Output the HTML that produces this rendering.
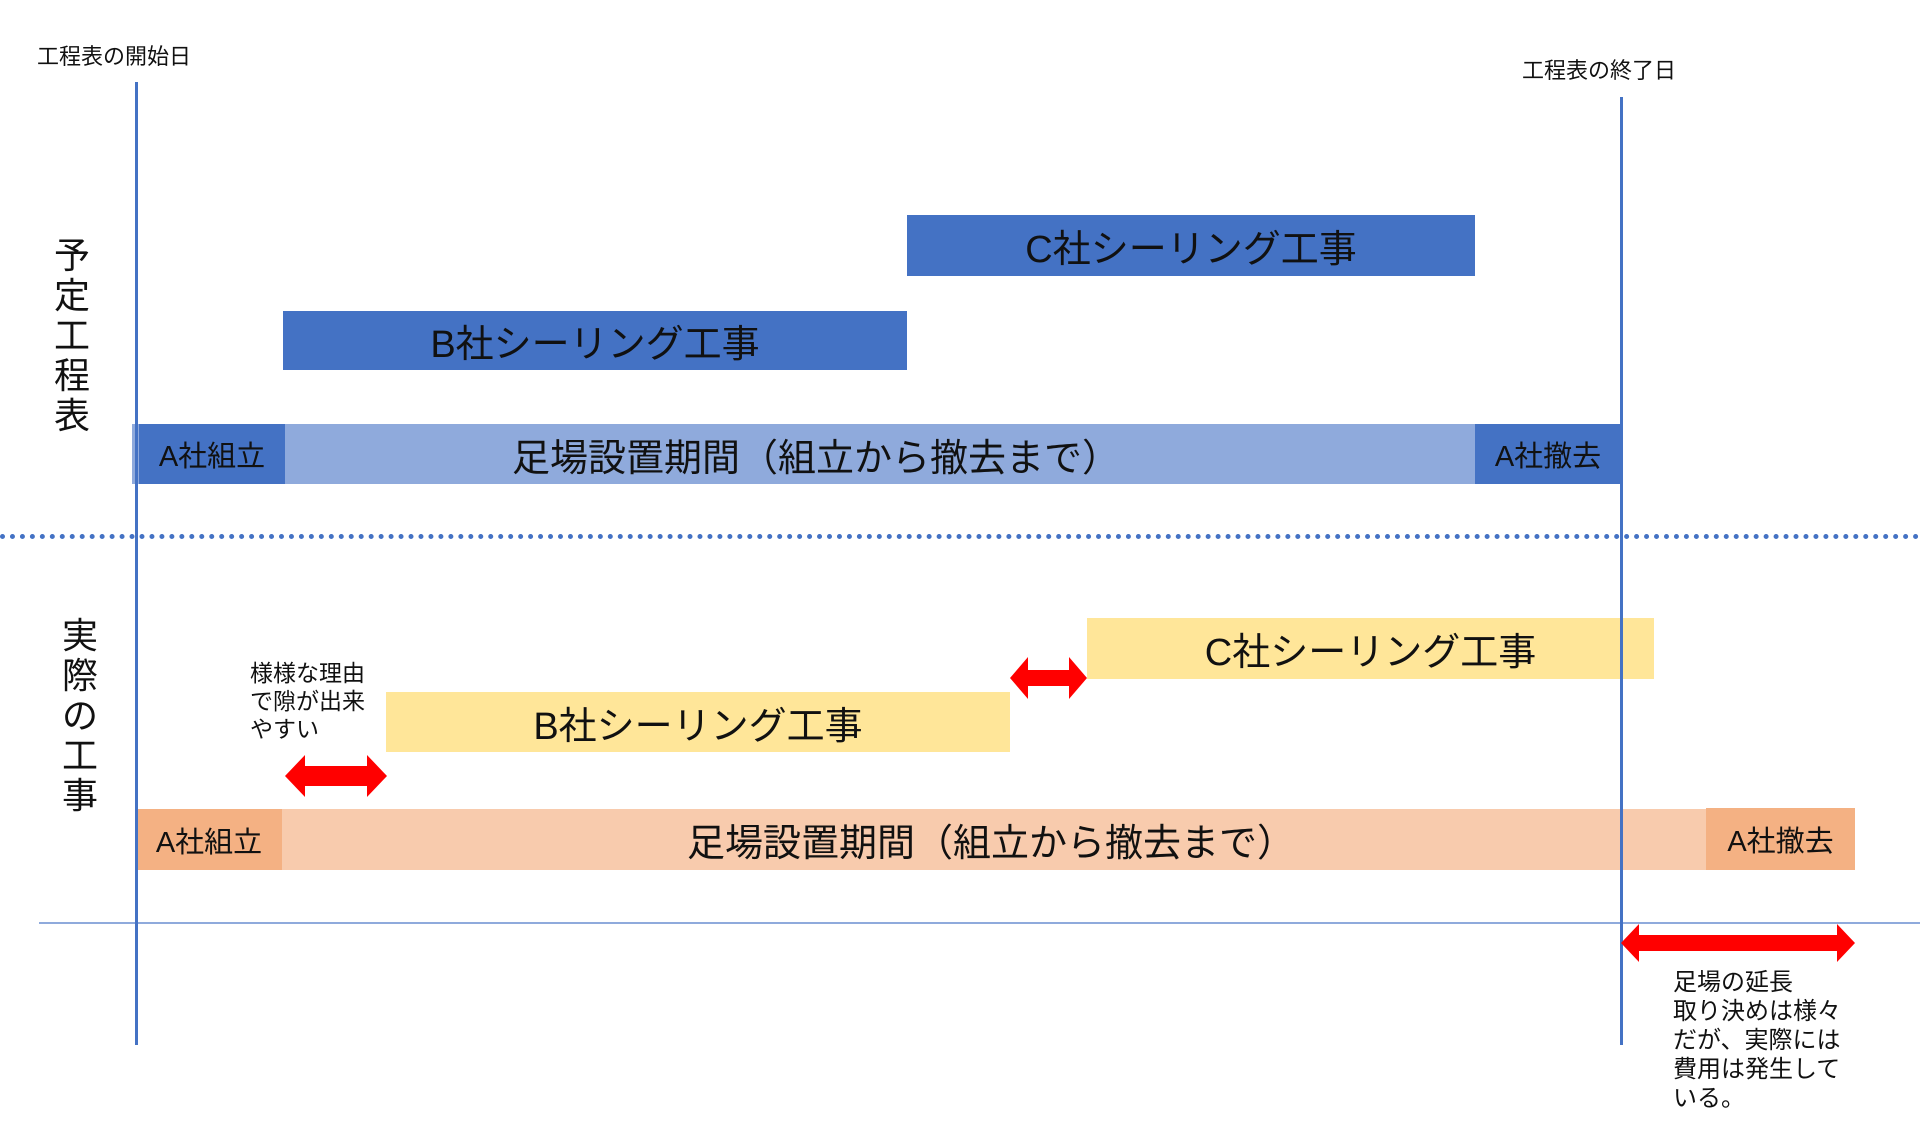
<!DOCTYPE html>
<html><head><meta charset="utf-8"><style>
body{margin:0;width:1920px;height:1134px;background:#fff;position:relative;overflow:hidden;font-family:"Liberation Sans","Noto Sans CJK JP",sans-serif;color:#111}
div{position:absolute;box-sizing:border-box}
.bar{display:flex;align-items:center;justify-content:center;white-space:nowrap}
.vt{width:44px;text-align:center;line-height:40px;font-size:36px}
.sm{font-size:23px;line-height:28px;white-space:nowrap}
</style></head><body>
<div class="sm" style="left:37px;top:43px;font-size:22px">工程表の開始日</div>
<div class="sm" style="left:1522px;top:57px;font-size:22px">工程表の終了日</div>
<div class="vt" style="left:50px;top:236px">予<br>定<br>工<br>程<br>表</div>
<div class="vt" style="left:58px;top:616px">実<br>際<br>の<br>工<br>事</div>

<div class="bar" style="left:907px;top:215px;width:568px;height:61px;background:#4472c4;font-size:38px">C社シーリング工事</div>
<div class="bar" style="left:283px;top:311px;width:624px;height:59px;background:#4472c4;font-size:38px">B社シーリング工事</div>
<div class="bar" style="left:132px;top:424px;width:1489px;height:60px;background:#8faadc;font-size:38px;justify-content:flex-start;padding-left:380px">足場設置期間（組立から撤去まで）</div>
<div class="bar" style="left:139px;top:424px;width:146px;height:60px;background:#4472c4;font-size:29px">A社組立</div>
<div class="bar" style="left:1475px;top:424px;width:146px;height:60px;background:#4472c4;font-size:29px">A社撤去</div>

<div style="left:0;top:534px;width:1920px;height:0;border-top:5px dotted #4472c4"></div>

<div class="bar" style="left:1087px;top:618px;width:567px;height:61px;background:#ffe699;font-size:38px">C社シーリング工事</div>
<div class="bar" style="left:386px;top:692px;width:624px;height:60px;background:#ffe699;font-size:38px">B社シーリング工事</div>
<div class="bar" style="left:136px;top:809px;width:1719px;height:61px;background:#f8cbad;font-size:38px;justify-content:flex-start;padding-left:551px">足場設置期間（組立から撤去まで）</div>
<div class="bar" style="left:136px;top:809px;width:146px;height:61px;background:#f4b183;font-size:29px">A社組立</div>
<div class="bar" style="left:1706px;top:808px;width:149px;height:62px;background:#f4b183;font-size:29px">A社撤去</div>

<div style="left:39px;top:922px;width:1881px;height:2px;background:#8faadc"></div>
<div style="left:135px;top:82px;width:3px;height:963px;background:#4472c4"></div>
<div style="left:1620px;top:97px;width:3px;height:948px;background:#4472c4"></div>

<svg width="1920" height="1134" style="position:absolute;left:0;top:0">
<polygon fill="#f00" points="285,776 305,755 305,766 367,766 367,755 387,776 367,797 367,786 305,786 305,797"/>
<polygon fill="#f00" points="1010,678 1028,657 1028,670 1069,670 1069,657 1087,678 1069,699 1069,686 1028,686 1028,699"/>
<polygon fill="#f00" points="1621,943 1639,924 1639,935 1837,935 1837,924 1855,943 1837,962 1837,951 1639,951 1639,962"/>
</svg>

<div class="sm" style="left:250px;top:659px">様様な理由<br>で隙が出来<br>やすい</div>
<div class="sm" style="left:1673px;top:968px;line-height:29px;font-size:24px">足場の延長<br>取り決めは様々<br>だが、実際には<br>費用は発生して<br>いる。</div>
</body></html>
